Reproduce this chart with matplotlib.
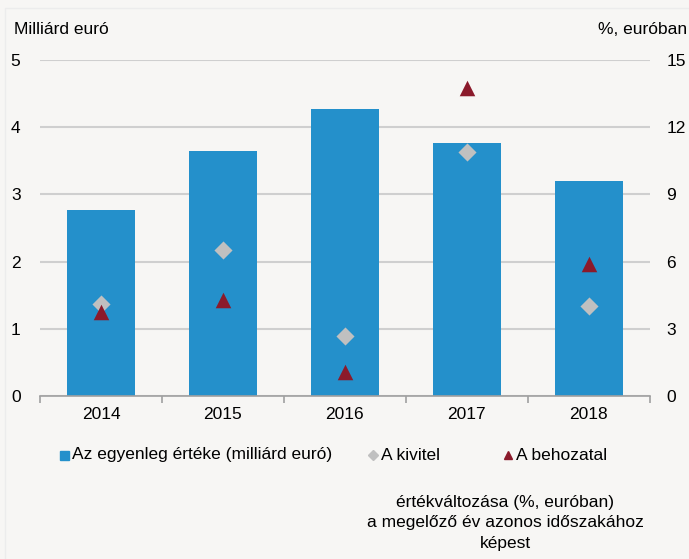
import matplotlib
matplotlib.use("Agg")
import matplotlib.pyplot as plt
from matplotlib import font_manager as fm
from matplotlib.patches import Rectangle
import numpy as np

years = ["2014", "2015", "2016", "2017", "2018"]
balance = [2.77, 3.65, 4.27, 3.76, 3.20]
export_chg = [4.1, 6.5, 2.7, 10.9, 4.0]
import_chg = [3.75, 4.3, 1.07, 13.75, 5.9]

names = {f.name for f in fm.fontManager.ttflist}
fam = "Liberation Sans Narrow" if "Liberation Sans Narrow" in names else "Liberation Sans"
plt.rcParams['font.family'] = [fam, 'DejaVu Sans']
plt.rcParams['font.size'] = 12.5

bg = "#f7f6f4"
bar_c = "#2490cb"
dia_c = "#c0c0c0"
tri_c = "#8b1a2b"
grid_c = "#cfcfcf"

fig = plt.figure(figsize=(6.89, 5.59), dpi=100, facecolor=bg)
fig.patches.append(Rectangle((5 / 689, -0.1), 2, 1.1 - 8 / 559, transform=fig.transFigure,
                             fill=False, edgecolor="#ececec", linewidth=1))
ax = fig.add_axes([0.058, 0.2916, 0.885, 0.6011])
ax.set_facecolor(bg)
x = np.arange(len(years))
ax.bar(x, balance, width=0.56, color=bar_c, zorder=2)
ax.set_ylim(0, 5)
ax.set_xlim(-0.5, len(years) - 0.5)
ax.set_yticks([0, 1, 2, 3, 4, 5])
ax.yaxis.grid(True, color=grid_c, linewidth=1.5, zorder=0)
ax.set_axisbelow(True)
for s in ["top", "left", "right"]:
    ax.spines[s].set_visible(False)
ax.spines["bottom"].set_color("#a0a0a0")
ax.spines["bottom"].set_linewidth(1.2)
ax.set_xticks(x)
ax.set_xticklabels(years)
ax.set_xticks(np.arange(-0.5, len(years)), minor=True)
ax.tick_params(axis='x', which='major', length=0, pad=8)
ax.tick_params(axis='x', which='minor', length=5, color="#a0a0a0", width=1.2)
ax.tick_params(axis='y', length=0, pad=14)

ax2 = ax.twinx()
ax2.set_ylim(0, 15)
ax2.set_yticks([0, 3, 6, 9, 12, 15])
for s in ax2.spines.values():
    s.set_visible(False)
ax2.tick_params(axis='y', length=0, pad=12)
ax2.scatter(x, export_chg, marker='D', s=85, color=dia_c, zorder=3, linewidths=0)
ax2.scatter(x, import_chg, marker='^', s=125, color=tri_c, zorder=4, linewidths=0)

fig.text(0.02, 0.948, "Milliárd euró", ha='left', va='center')
fig.text(0.998, 0.948, "%, euróban", ha='right', va='center')

# legend
ly = 1 - 455 / 559
fig.patches.append(Rectangle((60 / 689, ly - 0.009), 9 / 689, 9 / 559, transform=fig.transFigure, color=bar_c))
fig.text(72 / 689, ly, "Az egyenleg értéke (milliárd euró)", ha='left', va='center')
fig.lines.append(plt.Line2D([373 / 689], [ly], marker='D', markersize=5, color=dia_c, lw=0, transform=fig.transFigure))
fig.text(381 / 689, ly, "A kivitel", ha='left', va='center')
fig.lines.append(plt.Line2D([508 / 689], [ly], marker='^', markersize=6, color=tri_c, lw=0, transform=fig.transFigure))
fig.text(516 / 689, ly, "A behozatal", ha='left', va='center')

fig.text(505 / 689, 1 - 523 / 559,
         "értékváltozása (%, euróban)\na megelőző év azonos időszakához\nképest",
         ha='center', va='center', linespacing=1.45)

fig.savefig("out.png", dpi=100, facecolor=bg)
